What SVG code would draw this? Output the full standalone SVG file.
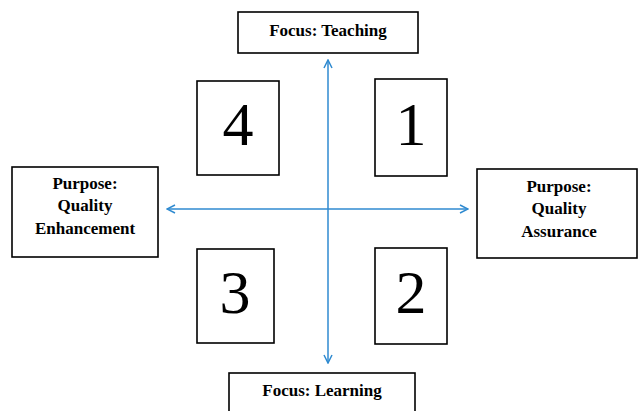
<svg xmlns="http://www.w3.org/2000/svg" width="639" height="411" viewBox="0 0 639 411">
<defs>
<style>
.box{fill:#fff;stroke:#000;stroke-width:1.6}
.lbl{font-family:"Liberation Serif","Times New Roman",serif;font-weight:bold;font-size:17px;text-anchor:middle;fill:#000}
.num{font-family:"Liberation Serif","Times New Roman",serif;font-size:62px;text-anchor:middle;fill:#000}
.axis{stroke:#2f8ad0;stroke-width:1.5;fill:none}
</style>
<marker id="arr" viewBox="0 0 10 10" refX="9" refY="5" markerWidth="10" markerHeight="10" markerUnits="userSpaceOnUse" orient="auto-start-reverse">
<path d="M1,1 L9,5 L1,9" fill="none" stroke="#2f8ad0" stroke-width="1.5"/>
</marker>
</defs>
<rect width="639" height="411" fill="#fff"/>
<g id="connectors">
<line class="axis" x1="328" y1="60" x2="328" y2="363" marker-start="url(#arr)" marker-end="url(#arr)"/>
<line class="axis" x1="167" y1="209" x2="468" y2="209" marker-start="url(#arr)" marker-end="url(#arr)"/>
</g>
<g id="focus-teaching">
<rect class="box" x="238" y="12" width="180" height="41"/>
<text class="lbl" x="328" y="36">Focus: Teaching</text>
</g>
<g id="purpose-qe">
<rect class="box" x="12" y="167" width="146" height="90"/>
<text class="lbl" x="85" y="189">Purpose:</text>
<text class="lbl" x="85" y="211">Quality</text>
<text class="lbl" x="85" y="234">Enhancement</text>
</g>
<g id="purpose-qa">
<rect class="box" x="477" y="169" width="160" height="89"/>
<text class="lbl" x="559" y="192">Purpose:</text>
<text class="lbl" x="559" y="214">Quality</text>
<text class="lbl" x="559" y="237">Assurance</text>
</g>
<g id="focus-learning">
<rect class="box" x="229" y="373" width="186" height="45"/>
<text class="lbl" x="322" y="396">Focus: Learning</text>
</g>
<g id="q4">
<rect class="box" x="197" y="81" width="82" height="94"/>
<text class="num" x="238" y="145">4</text>
</g>
<g id="q1">
<rect class="box" x="375" y="79" width="72" height="97"/>
<text class="num" x="411" y="145">1</text>
</g>
<g id="q3">
<rect class="box" x="197" y="249" width="77" height="94"/>
<text class="num" x="235" y="313">3</text>
</g>
<g id="q2">
<rect class="box" x="375" y="248" width="72" height="96"/>
<text class="num" x="411" y="313">2</text>
</g>
</svg>
